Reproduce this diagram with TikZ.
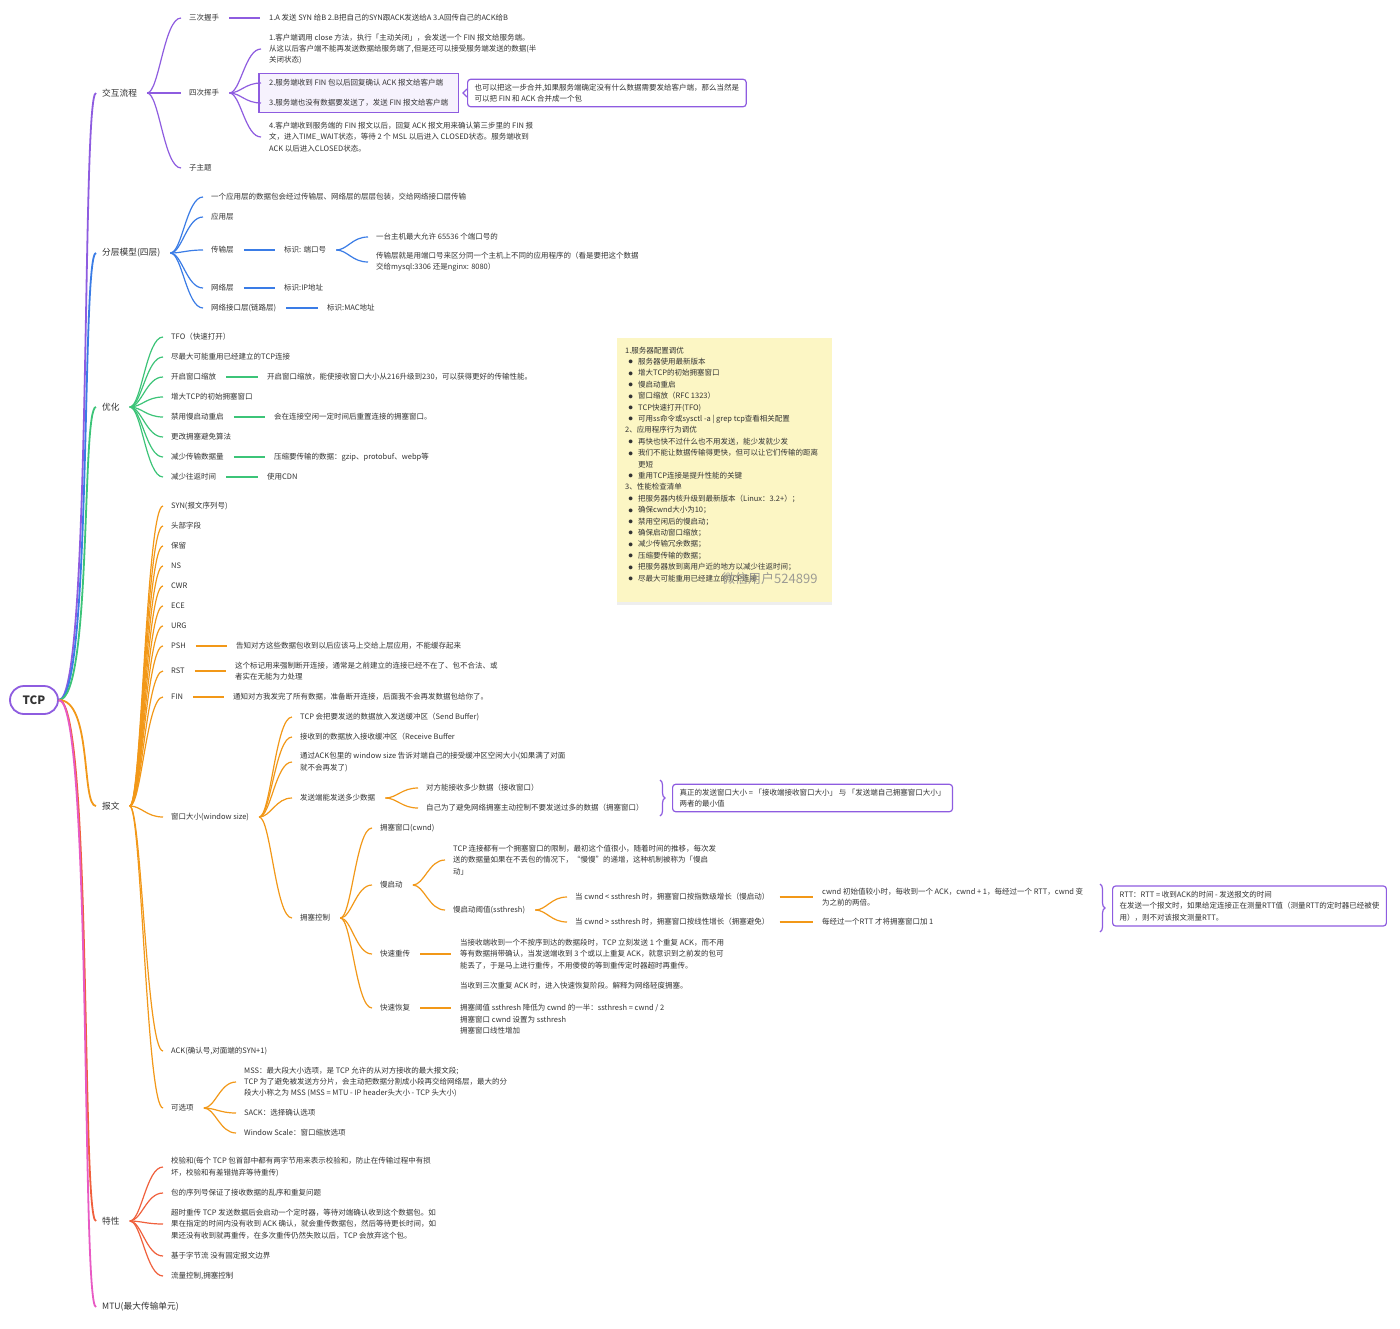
\documentclass[tikz,border=0pt]{standalone}
\usepackage{fontspec}
\setmainfont{Noto Sans CJK SC}
\usetikzlibrary{calc,fit,backgrounds,decorations.pathreplacing,shadows}

\definecolor{mpurple}{RGB}{142,92,224}
\definecolor{mblue}{RGB}{58,124,230}
\definecolor{mgreen}{RGB}{60,196,120}
\definecolor{morange}{RGB}{242,152,24}
\definecolor{mred}{RGB}{240,96,60}
\definecolor{mpink}{RGB}{232,90,196}
\definecolor{mtext}{RGB}{51,51,51}
\definecolor{notebg}{RGB}{252,246,196}
\definecolor{grpbg}{RGB}{246,242,253}

\newcommand\fsmall{\fontsize{7.5}{11.4}\selectfont}
\newcommand\tip{\hspace*{3.5pt}\makebox[9.5pt][l]{\raisebox{0.6pt}{\fontsize{4.2}{4}\selectfont ●}}}

\begin{document}
\begin{tikzpicture}[x=1pt,y=-1pt,
  topic/.style={anchor=west,inner sep=0pt,align=left,text=mtext,font=\fsmall},
  main/.style={anchor=west,inner sep=0pt,text=mtext,font=\fontsize{8.7}{11}\selectfont},
  root/.style={draw=mpurple,line width=1.8pt,rounded corners=14pt,minimum width=48pt,
    minimum height=28pt,inner sep=0pt,text=mtext,font=\fontsize{11.5}{13}\selectfont\bfseries},
  trunk/.style={line width=1.8pt,to path={let \p1=(\tikztostart),\p2=($(\tikztotarget)+(-6pt,0pt)$) in
    (\p1) .. controls ({\x1+0.9*(\x2-\x1)},\y1) and ({\x1+0.6*(\x2-\x1)},\y2) .. (\p2)}},
  branch/.style={line width=1.2pt,to path={let \p1=($(\tikztostart)+(10pt,0pt)$),\p2=($(\tikztotarget)+(-8pt,0pt)$) in
    (\p1) .. controls ({\x1+0.35*(\x2-\x1)},\y1) and ({\x1+0.5*(\x2-\x1)},\y2) .. (\p2)}},
  link/.style={line width=1.2pt,shorten <=10pt,shorten >=9pt},
  grp/.style={draw=mpurple,line width=1.2pt,fill=grpbg,inner xsep=10pt,inner ysep=6pt},
  callout/.style={draw=mpurple,line width=1.2pt,fill=white,rounded corners=3pt,anchor=west,
    align=left,text=mtext,font=\fsmall,inner xsep=7pt,inner ysep=4.5pt},
  sbrace/.style={draw=mpurple,line width=1.2pt,decorate,decoration={brace,amplitude=5pt}}
]
\begin{scope}[on background layer]
  \fill[white] (0,0) rectangle (1400,1328);
\end{scope}
\useasboundingbox (0,0) rectangle (1400,1328);

% root and main topics
\node[root] (tcp) at (34,700) {TCP};
\node[main] (flow) at (102,93) {交互流程};
\node[main] (layer) at (102,253) {分层模型(四层)};
\node[main] (opt) at (102,407) {优化};
\node[main] (msg) at (102,806) {报文};
\node[main] (feat) at (102,1221) {特性};
\node[main] (mtu) at (102,1307) {MTU(最大传输单元)};

\draw[trunk,mpurple] (tcp.east) to (flow.west);
\draw[trunk,mblue] (tcp.east) to (layer.west);
\draw[trunk,mgreen] (tcp.east) to (opt.west);
\draw[trunk,morange] (tcp.east) to (msg.west);
\draw[trunk,mred] (tcp.east) to (feat.west);
\draw[trunk,mpink] (tcp.east) to (mtu.west);

% 交互流程
\node[topic] (hs3) at (189,18) {三次握手};
\node[topic] (hs3t) at (269,18) {1.A 发送 SYN 给B 2.B把自己的SYN跟ACK发送给A 3.A回传自己的ACK给B};
\node[topic] (wave) at (189,93) {四次挥手};
\node[topic] (w1) at (269,49) {1.客户端调用 close 方法，执行「主动关闭」，会发送一个 FIN 报文给服务端。\\从这以后客户端不能再发送数据给服务端了,但是还可以接受服务端发送的数据(半\\关闭状态)};
\node[topic] (w2) at (269,83) {2.服务端收到 FIN 包以后回复确认 ACK 报文给客户端};
\node[topic] (w3) at (269,103) {3.服务端也没有数据要发送了，发送 FIN 报文给客户端};
\node[topic] (w4) at (269,137) {4.客户端收到服务端的 FIN 报文以后，回复 ACK 报文用来确认第三步里的 FIN 报\\文，进入TIME\_WAIT状态，等待 2 个 MSL 以后进入 CLOSED状态。服务端收到\\ACK 以后进入CLOSED状态。};
\node[topic] (sub) at (189,168) {子主题};
\begin{scope}[on background layer]
  \node[grp,fit=(w2)(w3)] (wgrp) {};
\end{scope}
\node[callout] (merge) at (467,93) {也可以把这一步合并,如果服务端确定没有什么数据需要发给客户端，那么当然是\\可以把 FIN 和 ACK 合并成一个包};
\draw[mpurple,line width=1.2pt] ([yshift=-4pt]merge.west) -- ([xshift=-4pt]merge.west) -- ([yshift=4pt]merge.west);

\draw[branch,mpurple] (flow.east) to (hs3.west);
\draw[branch,mpurple] (flow.east) to (wave.west);
\draw[branch,mpurple] (flow.east) to (sub.west);
\draw[link,mpurple] (hs3.east) -- (hs3t.west);
\draw[branch,mpurple] (wave.east) to (w1.west);
\draw[branch,mpurple] (wave.east) to (w2.west);
\draw[branch,mpurple] (wave.east) to (w3.west);
\draw[branch,mpurple] (wave.east) to (w4.west);

% 分层模型
\node[topic] (lay0) at (211,197) {一个应用层的数据包会经过传输层、网络层的层层包装，交给网络接口层传输};
\node[topic] (app) at (211,217) {应用层};
\node[topic] (trans) at (211,250) {传输层};
\node[topic] (port) at (284,250) {标识: 端口号};
\node[topic] (port1) at (376,237) {一台主机最大允许 65536 个端口号的};
\node[topic] (port2) at (376,262) {传输层就是用端口号来区分同一个主机上不同的应用程序的（看是要把这个数据\\交给mysql:3306 还是nginx: 8080）};
\node[topic] (net) at (211,288) {网络层};
\node[topic] (ip) at (284,288) {标识:IP地址};
\node[topic] (nif) at (211,308) {网络接口层(链路层)};
\node[topic] (mac) at (327,308) {标识:MAC地址};

\draw[branch,mblue] (layer.east) to (lay0.west);
\draw[branch,mblue] (layer.east) to (app.west);
\draw[branch,mblue] (layer.east) to (trans.west);
\draw[branch,mblue] (layer.east) to (net.west);
\draw[branch,mblue] (layer.east) to (nif.west);
\draw[link,mblue] (trans.east) -- (port.west);
\draw[branch,mblue] (port.east) to (port1.west);
\draw[branch,mblue] (port.east) to (port2.west);
\draw[link,mblue] (net.east) -- (ip.west);
\draw[link,mblue] (nif.east) -- (mac.west);

% 优化
\node[topic] (tfo) at (171,337) {TFO（快速打开）};
\node[topic] (reuse) at (171,357) {尽最大可能重用已经建立的TCP连接};
\node[topic] (scale) at (171,377) {开启窗口缩放};
\node[topic] (scalet) at (267,377) {开启窗口缩放，能使接收窗口大小从216升级到230，可以获得更好的传输性能。};
\node[topic] (initw) at (171,397) {增大TCP的初始拥塞窗口};
\node[topic] (ssr) at (171,417) {禁用慢启动重启};
\node[topic] (ssrt) at (274,417) {会在连接空闲一定时间后重置连接的拥塞窗口。};
\node[topic] (cca) at (171,437) {更改拥塞避免算法};
\node[topic] (less) at (171,457) {减少传输数据量};
\node[topic] (lesst) at (274,457) {压缩要传输的数据：gzip、protobuf、webp等};
\node[topic] (rtt) at (171,477) {减少往返时间};
\node[topic] (cdn) at (267,477) {使用CDN};

\foreach \k in {tfo,reuse,scale,initw,ssr,cca,less,rtt}
  \draw[branch,mgreen] (opt.east) to (\k.west);
\draw[link,mgreen] (scale.east) -- (scalet.west);
\draw[link,mgreen] (ssr.east) -- (ssrt.west);
\draw[link,mgreen] (less.east) -- (lesst.west);
\draw[link,mgreen] (rtt.east) -- (cdn.west);

% note
\fill[notebg,drop shadow={opacity=0.13,shadow xshift=0pt,shadow yshift=-3pt}] (617,338) rectangle (832,602);
\node[topic,anchor=north west] (tips) at (625,346.5) {1.服务器配置调优\\
\tip 服务器使用最新版本\\
\tip 增大TCP的初始拥塞窗口\\
\tip 慢启动重启\\
\tip 窗口缩放（RFC 1323）\\
\tip TCP快速打开(TFO)\\
\tip 可用ss命令或sysctl -a | grep tcp查看相关配置\\
2、应用程序行为调优\\
\tip 再快也快不过什么也不用发送，能少发就少发\\
\tip 我们不能让数据传输得更快，但可以让它们传输的距离\\
\hspace*{13pt}更短\\
\tip 重用TCP连接是提升性能的关键\\
3、性能检查清单\\
\tip 把服务器内核升级到最新版本（Linux：3.2+）；\\
\tip 确保cwnd大小为10；\\
\tip 禁用空闲后的慢启动；\\
\tip 确保启动窗口缩放；\\
\tip 减少传输冗余数据；\\
\tip 压缩要传输的数据；\\
\tip 把服务器放到离用户近的地方以减少往返时间；\\
\tip 尽最大可能重用已经建立的TCP连接};
\node[anchor=west,inner sep=0pt,text=black!45,opacity=0.85,font=\fontsize{13}{14}\selectfont] (wm) at (722,579) {微信用户524899};

% 报文
\node[topic] (syn) at (171,506) {SYN(报文序列号)};
\node[topic] (hdr) at (171,526) {头部字段};
\node[topic] (rsv) at (171,546) {保留};
\node[topic] (ns) at (171,566) {NS};
\node[topic] (cwr) at (171,586) {CWR};
\node[topic] (ece) at (171,606) {ECE};
\node[topic] (urg) at (171,626) {URG};
\node[topic] (psh) at (171,646) {PSH};
\node[topic] (psht) at (236,646) {告知对方这些数据包收到以后应该马上交给上层应用，不能缓存起来};
\node[topic] (rst) at (171,671) {RST};
\node[topic] (rstt) at (235,671) {这个标记用来强制断开连接，通常是之前建立的连接已经不在了、包不合法、或\\者实在无能为力处理};
\node[topic] (fin) at (171,697) {FIN};
\node[topic] (fint) at (233,697) {通知对方我发完了所有数据，准备断开连接，后面我不会再发数据包给你了。};
\node[topic] (win) at (171,817) {窗口大小(window size)};
\node[topic] (ack) at (171,1051) {ACK(确认号,对面端的SYN+1)};
\node[topic] (optn) at (171,1108) {可选项};

\foreach \k in {syn,hdr,rsv,ns,cwr,ece,urg,psh,rst,fin,win,ack,optn}
  \draw[branch,morange] (msg.east) to (\k.west);
\draw[link,morange] (psh.east) -- (psht.west);
\draw[link,morange] (rst.east) -- (rstt.west);
\draw[link,morange] (fin.east) -- (fint.west);

% 窗口大小
\node[topic] (sbuf) at (300,717) {TCP 会把要发送的数据放入发送缓冲区（Send Buffer)};
\node[topic] (rbuf) at (300,737) {接收到的数据放入接收缓冲区（Receive Buffer};
\node[topic] (adv) at (300,762) {通过ACK包里的 window size 告诉对端自己的接受缓冲区空闲大小(如果满了对面\\就不会再发了)};
\node[topic] (cansend) at (300,798) {发送端能发送多少数据};
\node[topic] (rwnd) at (426,788) {对方能接收多少数据（接收窗口）};
\node[topic] (cwndt) at (426,808) {自己为了避免网络拥塞主动控制不要发送过多的数据（拥塞窗口）};
\node[topic] (cc) at (300,918) {拥塞控制};

\foreach \k in {sbuf,rbuf,adv,cansend,cc}
  \draw[branch,morange] (win.east) to (\k.west);
\draw[branch,morange] (cansend.east) to (rwnd.west);
\draw[branch,morange] (cansend.east) to (cwndt.west);

\coordinate (wbtop) at (660,780);
\coordinate (wbbot) at (660,816);
\draw[sbrace] (wbtop) -- (wbbot);
\node[callout] (minwin) at (672,798) {真正的发送窗口大小 = 「接收端接收窗口大小」 与 「发送端自己拥塞窗口大小」\\两者的最小值};

% 拥塞控制
\node[topic] (cwnd) at (380,828) {拥塞窗口(cwnd)};
\node[topic] (slow) at (380,885) {慢启动};
\node[topic] (slowt) at (453,860) {TCP 连接都有一个拥塞窗口的限制，最初这个值很小，随着时间的推移，每次发\\送的数据量如果在不丢包的情况下，“慢慢”的递增，这种机制被称为「慢启\\动」};
\node[topic] (ssth) at (453,910) {慢启动阈值(ssthresh)};
\node[topic] (lt) at (575,897) {当 cwnd < ssthresh 时，拥塞窗口按指数级增长（慢启动）};
\node[topic] (gt) at (575,922) {当 cwnd > ssthresh 时，拥塞窗口按线性增长（拥塞避免）};
\node[topic] (ltt) at (822,897) {cwnd 初始值较小时，每收到一个 ACK，cwnd + 1，每经过一个 RTT，cwnd 变\\为之前的两倍。};
\node[topic] (gtt) at (822,922) {每经过一个RTT 才将拥塞窗口加 1};
\node[topic] (fr) at (380,954) {快速重传};
\node[topic] (frt) at (460,954) {当接收端收到一个不按序到达的数据段时，TCP 立刻发送 1 个重复 ACK，而不用\\等有数据捎带确认，当发送端收到 3 个或以上重复 ACK，就意识到之前发的包可\\能丢了，于是马上进行重传，不用傻傻的等到重传定时器超时再重传。};
\node[topic] (frec) at (380,1008) {快速恢复};
\node[topic] (frect) at (460,1008) {当收到三次重复 ACK 时，进入快速恢复阶段。解释为网络轻度拥塞。\\[11.4pt]拥塞阈值 ssthresh 降低为 cwnd 的一半：ssthresh = cwnd / 2\\拥塞窗口 cwnd 设置为 ssthresh\\拥塞窗口线性增加};

\foreach \k in {cwnd,slow,fr,frec}
  \draw[branch,morange] (cc.east) to (\k.west);
\draw[branch,morange] (slow.east) to (slowt.west);
\draw[branch,morange] (slow.east) to (ssth.west);
\draw[branch,morange] (ssth.east) to (lt.west);
\draw[branch,morange] (ssth.east) to (gt.west);
\draw[link,morange] (lt.east) -- (ltt.west);
\draw[link,morange] (gt.east) -- (gtt.west);
\draw[link,morange] (fr.east) -- (frt.west);
\draw[link,morange] (frec.east) -- (frect.west);

\coordinate (rbtop) at (1100,884);
\coordinate (rbbot) at (1100,932);
\draw[sbrace] (rbtop) -- (rbbot);
\node[callout,inner ysep=5pt] (rttbox) at (1112,906) {RTT：RTT = 收到ACK的时间 - 发送报文的时间\\在发送一个报文时，如果给定连接正在测量RTT值（测量RTT的定时器已经被使\\用），则不对该报文测量RTT。};

% 可选项
\node[topic] (mss) at (244,1082) {MSS：最大段大小选项，是 TCP 允许的从对方接收的最大报文段;\\TCP 为了避免被发送方分片，会主动把数据分割成小段再交给网络层，最大的分\\段大小称之为 MSS (MSS = MTU - IP header头大小 - TCP 头大小)};
\node[topic] (sack) at (244,1113) {SACK：选择确认选项};
\node[topic] (wscale) at (244,1133) {Window Scale：窗口缩放选项};
\foreach \k in {mss,sack,wscale}
  \draw[branch,morange] (optn.east) to (\k.west);

% 特性
\node[topic] (chk) at (171,1167) {校验和(每个 TCP 包首部中都有两字节用来表示校验和，防止在传输过程中有损\\坏，校验和有差错抛弃等待重传)};
\node[topic] (seqno) at (171,1193) {包的序列号保证了接收数据的乱序和重复问题};
\node[topic] (rto) at (171,1224) {超时重传 TCP 发送数据后会启动一个定时器，等待对端确认收到这个数据包。如\\果在指定的时间内没有收到 ACK 确认，就会重传数据包，然后等待更长时间，如\\果还没有收到就再重传，在多次重传仍然失败以后，TCP 会放弃这个包。};
\node[topic] (stream) at (171,1256) {基于字节流 没有固定报文边界};
\node[topic] (fc) at (171,1276) {流量控制,拥塞控制};
\foreach \k in {chk,seqno,rto,stream,fc}
  \draw[branch,mred] (feat.east) to (\k.west);
\end{tikzpicture}
\end{document}
